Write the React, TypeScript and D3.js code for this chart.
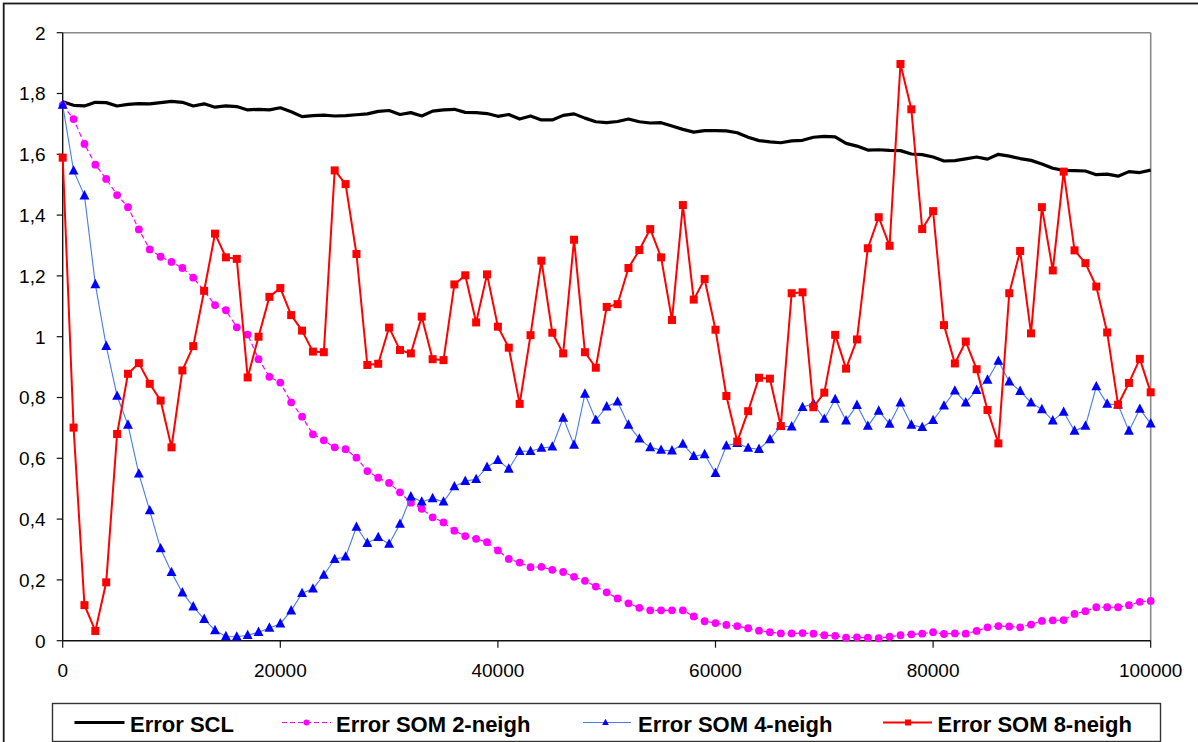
import React from "react";
import * as d3 from "d3";

const xValues: number[] = d3.range(0, 100001, 1000);

const scl: number[] = [
  1.773, 1.761, 1.759, 1.771, 1.770, 1.759, 1.764, 1.767, 1.766, 1.770,
  1.774, 1.771, 1.759, 1.766, 1.755, 1.759, 1.757, 1.746, 1.748, 1.746,
  1.753, 1.740, 1.724, 1.727, 1.729, 1.726, 1.727, 1.730, 1.733, 1.741,
  1.744, 1.731, 1.737, 1.726, 1.742, 1.746, 1.748, 1.738, 1.737, 1.734,
  1.725, 1.731, 1.716, 1.726, 1.713, 1.713, 1.728, 1.733, 1.719, 1.707,
  1.704, 1.708, 1.716, 1.707, 1.703, 1.704, 1.693, 1.682, 1.673, 1.678,
  1.678, 1.677, 1.671, 1.656, 1.645, 1.641, 1.638, 1.644, 1.646, 1.656,
  1.659, 1.657, 1.636, 1.627, 1.614, 1.615, 1.613, 1.612, 1.601, 1.599,
  1.591, 1.578, 1.579, 1.585, 1.591, 1.584, 1.600, 1.594, 1.586, 1.580,
  1.568, 1.554, 1.547, 1.546, 1.545, 1.533, 1.535, 1.528, 1.543, 1.540, 1.548,
];

const som2: number[] = [
  1.762, 1.716, 1.634, 1.566, 1.519, 1.466, 1.426, 1.353, 1.287, 1.263,
  1.246, 1.226, 1.194, 1.151, 1.104, 1.087, 1.031, 1.007, 0.926, 0.868,
  0.849, 0.784, 0.737, 0.679, 0.659, 0.636, 0.630, 0.602, 0.558, 0.536,
  0.519, 0.488, 0.454, 0.434, 0.406, 0.389, 0.362, 0.344, 0.335, 0.324,
  0.297, 0.269, 0.257, 0.242, 0.243, 0.233, 0.226, 0.210, 0.197, 0.178,
  0.159, 0.139, 0.123, 0.108, 0.100, 0.100, 0.100, 0.100, 0.080, 0.064,
  0.058, 0.052, 0.048, 0.041, 0.033, 0.028, 0.024, 0.024, 0.025, 0.023,
  0.018, 0.016, 0.010, 0.011, 0.010, 0.008, 0.013, 0.018, 0.021, 0.023,
  0.028, 0.022, 0.024, 0.023, 0.032, 0.044, 0.048, 0.047, 0.044, 0.053,
  0.065, 0.067, 0.068, 0.088, 0.097, 0.110, 0.110, 0.110, 0.117, 0.128, 0.131,
];

const som4: number[] = [
  1.762, 1.546, 1.464, 1.172, 0.969, 0.805, 0.710, 0.549, 0.428, 0.303,
  0.225, 0.158, 0.112, 0.071, 0.034, 0.014, 0.013, 0.018, 0.028, 0.042,
  0.056, 0.099, 0.156, 0.171, 0.216, 0.268, 0.276, 0.374, 0.321, 0.340,
  0.318, 0.384, 0.474, 0.457, 0.468, 0.457, 0.507, 0.525, 0.531, 0.571,
  0.594, 0.565, 0.623, 0.623, 0.634, 0.638, 0.733, 0.644, 0.812, 0.726,
  0.770, 0.786, 0.710, 0.664, 0.636, 0.627, 0.625, 0.647, 0.607, 0.613,
  0.551, 0.641, 0.650, 0.634, 0.630, 0.662, 0.706, 0.704, 0.768, 0.780,
  0.729, 0.794, 0.724, 0.775, 0.706, 0.756, 0.713, 0.783, 0.710, 0.702,
  0.725, 0.773, 0.822, 0.783, 0.824, 0.858, 0.920, 0.852, 0.821, 0.783,
  0.761, 0.724, 0.752, 0.690, 0.706, 0.836, 0.779, 0.776, 0.690, 0.762, 0.714,
];

const som8: number[] = [
  1.589, 0.701, 0.117, 0.032, 0.192, 0.680, 0.878, 0.913, 0.845, 0.790,
  0.636, 0.889, 0.969, 1.151, 1.339, 1.261, 1.256, 0.866, 1.000, 1.131,
  1.160, 1.071, 1.020, 0.951, 0.949, 1.547, 1.502, 1.272, 0.907, 0.911,
  1.030, 0.956, 0.945, 1.066, 0.926, 0.923, 1.172, 1.202, 1.047, 1.205,
  1.033, 0.964, 0.779, 1.005, 1.250, 1.013, 0.945, 1.319, 0.949, 0.898,
  1.098, 1.107, 1.226, 1.285, 1.354, 1.261, 1.055, 1.433, 1.122, 1.190,
  1.023, 0.805, 0.655, 0.755, 0.865, 0.862, 0.706, 1.143, 1.146, 0.768,
  0.816, 1.006, 0.895, 0.991, 1.291, 1.393, 1.299, 1.897, 1.748, 1.354,
  1.413, 1.038, 0.912, 0.984, 0.893, 0.759, 0.649, 1.143, 1.282, 1.011,
  1.426, 1.218, 1.543, 1.284, 1.242, 1.165, 1.014, 0.776, 0.848, 0.927, 0.817,
];

const xTicks: number[] = [0, 20000, 40000, 60000, 80000, 100000];
const yTicks: number[] = [0, 0.2, 0.4, 0.6, 0.8, 1, 1.2, 1.4, 1.6, 1.8, 2];
const legendLabels: string[] = [
  "Error SCL",
  "Error SOM 2-neigh",
  "Error SOM 4-neigh",
  "Error SOM 8-neigh",
];

const W = 1198;
const H = 742;
const plot = { left: 62.7, right: 1150.7, top: 32.7, bottom: 640.7 };
const FONT = "'Liberation Sans', Arial, Helvetica, sans-serif";

const x = d3.scaleLinear().domain([0, 100000]).range([plot.left, plot.right]);
const y = d3.scaleLinear().domain([0, 2]).range([plot.bottom, plot.top]);

const fmtY = (v: number) => (Math.round(v * 10) / 10).toString().replace(".", ",");

function lineOf(vals: number[]): string {
  const gen = d3
    .line<number>()
    .x((_, i) => x(xValues[i]))
    .y((d) => y(d));
  return gen(vals) || "";
}

const tri = (cx: number, cy: number, s: number) =>
  `M${cx},${cy - s * 0.62} L${cx + s * 0.55},${cy + s * 0.42} L${cx - s * 0.55},${cy + s * 0.42} Z`;

export default function App() {
  const legendY = 722.5;
  const legendItems = [
    { x0: 74.5, x1: 124.5, tx: 130, label: legendLabels[0] },
    { x0: 282, x1: 331, tx: 336, label: legendLabels[1] },
    { x0: 583, x1: 631, tx: 638, label: legendLabels[2] },
    { x0: 883, x1: 932, tx: 937.5, label: legendLabels[3] },
  ];
  return (
    <div style={{ position: "fixed", left: 0, top: 0, width: W, height: H, background: "#fff" }}>
      <svg width={W} height={H} style={{ display: "block" }}>
        <rect x={0} y={0} width={W} height={H} fill="#fff" />
        {/* outer chart border */}
        <rect x={3.7} y={3.5} width={1200} height={760} fill="none" stroke="#1a1a1a" strokeWidth={1.8} />

        {/* plot area top/right border */}
        <line x1={plot.left} x2={plot.right} y1={plot.top} y2={plot.top} stroke="#8a8a8a" strokeWidth={1.6} />
        <line x1={plot.right} x2={plot.right} y1={plot.top} y2={plot.bottom} stroke="#8a8a8a" strokeWidth={1.6} />

        {/* axes */}
        <line x1={plot.left} x2={plot.left} y1={plot.top} y2={plot.bottom} stroke="#111" strokeWidth={1.4} />
        <line x1={plot.left} x2={plot.right} y1={plot.bottom} y2={plot.bottom} stroke="#111" strokeWidth={1.4} />

        {yTicks.map((t) => (
          <g key={"y" + t}>
            <line x1={plot.left - 6} x2={plot.left} y1={y(t)} y2={y(t)} stroke="#111" strokeWidth={1.2} />
            <text
              x={45.5}
              y={y(t) + 6.8}
              textAnchor="end"
              fontFamily={FONT}
              fontSize={19}
              fill="#000"
            >
              {fmtY(t)}
            </text>
          </g>
        ))}

        {xTicks.map((t) => (
          <g key={"x" + t}>
            <line x1={x(t)} x2={x(t)} y1={plot.bottom} y2={plot.bottom + 7} stroke="#111" strokeWidth={1.2} />
            <text
              x={x(t)}
              y={677}
              textAnchor="middle"
              fontFamily={FONT}
              fontSize={19}
              fill="#000"
            >
              {t}
            </text>
          </g>
        ))}

        {/* SCL */}
        <path d={lineOf(scl)} fill="none" stroke="#000" strokeWidth={3.2} strokeLinejoin="round" />

        {/* SOM 2 */}
        <path d={lineOf(som2)} fill="none" stroke="#ff00ff" strokeWidth={1.2} strokeDasharray="5,3" />
        {som2.map((v, i) => (
          <circle key={"c" + i} cx={x(xValues[i])} cy={y(v)} r={3.9} fill="#ff00ff" />
        ))}

        {/* SOM 4 */}
        <path d={lineOf(som4)} fill="none" stroke="#4a7af0" strokeWidth={1.1} />
        {som4.map((v, i) => (
          <path key={"t" + i} d={tri(x(xValues[i]), y(v), 9)} fill="#0000ff" />
        ))}

        {/* SOM 8 */}
        <path d={lineOf(som8)} fill="none" stroke="#ff0000" strokeWidth={2} strokeLinejoin="round" />
        {som8.map((v, i) => (
          <rect key={"s" + i} x={x(xValues[i]) - 4} y={y(v) - 4} width={8} height={8} fill="#ff0000" />
        ))}

        {/* legend */}
        <rect x={52.5} y={703.5} width={1108} height={38} fill="#fff" stroke="#333" strokeWidth={1.4} />
        <line x1={legendItems[0].x0} x2={legendItems[0].x1} y1={legendY} y2={legendY} stroke="#000" strokeWidth={3} />
        <line x1={legendItems[1].x0} x2={legendItems[1].x1} y1={legendY} y2={legendY} stroke="#ff00ff" strokeWidth={1.2} strokeDasharray="5,3" />
        <circle cx={(legendItems[1].x0 + legendItems[1].x1) / 2} cy={legendY} r={3} fill="#ff00ff" />
        <line x1={legendItems[2].x0} x2={legendItems[2].x1} y1={legendY} y2={legendY} stroke="#4a7af0" strokeWidth={1.1} />
        <path d={tri(605.5, legendY, 6)} fill="#0000ff" />
        <line x1={legendItems[3].x0} x2={legendItems[3].x1} y1={legendY} y2={legendY} stroke="#ff0000" strokeWidth={2} />
        <rect x={908 - 3} y={legendY - 3} width={6} height={6} fill="#ff0000" />
        {legendItems.map((it) => (
          <text
            key={it.label}
            x={it.tx}
            y={731.5}
            fontFamily={FONT}
            fontSize={22}
            fontWeight="bold"
            fill="#000"
          >
            {it.label}
          </text>
        ))}
      </svg>
    </div>
  );
}
